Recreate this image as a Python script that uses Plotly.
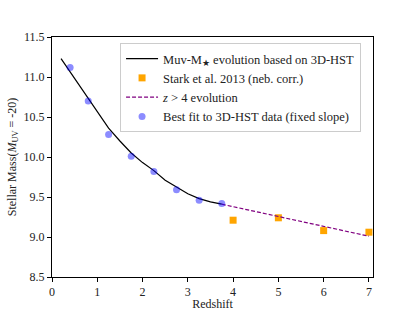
import plotly.graph_objects as go

# Data
fit_z = [0.4, 0.8, 1.25, 1.75, 2.25, 2.75, 3.25, 3.75]
fit_m = [11.12, 10.70, 10.28, 10.01, 9.82, 9.59, 9.46, 9.42]

stark_z = [4, 5, 6, 7]
stark_m = [9.21, 9.24, 9.08, 9.06]

evo_z = [0.2, 0.5, 0.75, 1.0, 1.25, 1.5, 1.75, 2.0, 2.25, 2.5, 2.75, 3.0, 3.25, 3.5, 3.75]
evo_m = [11.23, 10.98, 10.77, 10.56, 10.36, 10.20, 10.05, 9.93, 9.83, 9.71, 9.62, 9.54, 9.48, 9.44, 9.41]

hiz_z = [3.75, 7.0]
hiz_m = [9.41, 9.01]

xticks = [0, 1, 2, 3, 4, 5, 6, 7]
yticks = [8.5, 9.0, 9.5, 10.0, 10.5, 11.0, 11.5]

FONT = "'Liberation Serif', 'DejaVu Serif', serif"

fig = go.Figure()
fig.add_trace(go.Scatter(x=evo_z, y=evo_m, mode="lines",
                         line=dict(color="black", width=1.2),
                         name="Muv-M<sub>★</sub> evolution based on 3D-HST"))
fig.add_trace(go.Scatter(x=stark_z, y=stark_m, mode="markers",
                         marker=dict(symbol="square", size=7, color="#FFA500"),
                         name="Stark et al. 2013 (neb. corr.)"))
fig.add_trace(go.Scatter(x=hiz_z, y=hiz_m, mode="lines",
                         line=dict(color="purple", width=1.2, dash="4px,2px"),
                         name="<i>z</i> > 4 evolution"))
fig.add_trace(go.Scatter(x=fit_z, y=fit_m, mode="markers",
                         marker=dict(symbol="circle", size=7, color="rgba(0,0,255,0.45)"),
                         name="Best fit to 3D-HST data (fixed slope)"))

axis_common = dict(showline=True, linecolor="black", linewidth=1, mirror=True,
                   ticks="outside", ticklen=4, tickcolor="black", showgrid=False,
                   zeroline=False, automargin=False,
                   tickfont=dict(family=FONT, size=12, color="#222"))

fig.update_layout(
    width=415, height=311,
    margin=dict(l=52, r=42, t=37, b=34),
    paper_bgcolor="white", plot_bgcolor="white",
    font=dict(family=FONT, size=12, color="#222"),
    showlegend=True,
    legend=dict(x=0.212, y=0.975, xanchor="left", yanchor="top",
                bgcolor="rgba(255,255,255,0.8)", bordercolor="#cccccc", borderwidth=1,
                font=dict(family=FONT, size=12.5, color="#222"), tracegroupgap=0,
                itemwidth=32),
    xaxis=dict(range=[0, 7.09], tickvals=xticks, title=dict(text="Redshift", standoff=2,
               font=dict(family=FONT, size=12)), **axis_common),
    yaxis=dict(range=[8.5, 11.5], tickvals=yticks, tickformat=".1f",
               title=dict(text="Stellar Mass(<i>M</i><sub>UV</sub> = -20)", standoff=4,
                          font=dict(family=FONT, size=12)), **axis_common),
)

fig.write_html("out.html", config={"displayModeBar": False},
               post_script="document.body.style.margin='0';")
